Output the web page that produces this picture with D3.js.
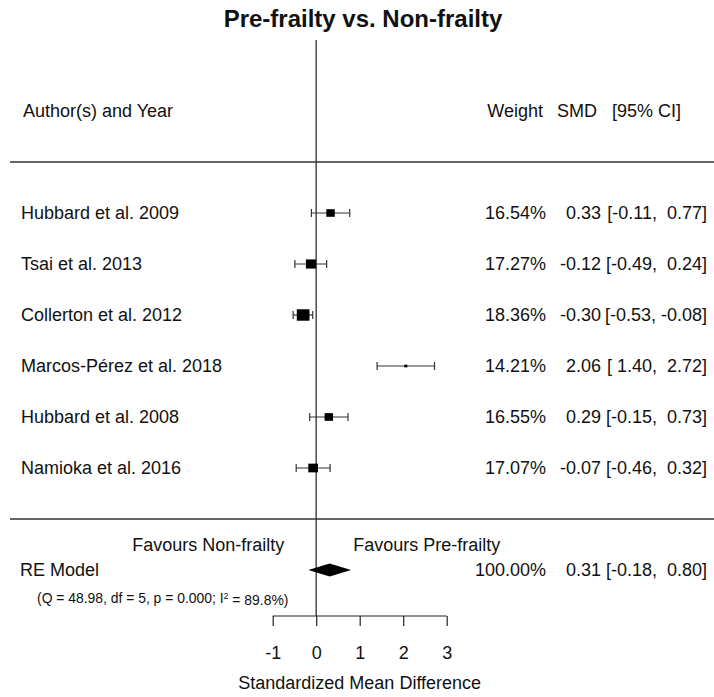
<!DOCTYPE html>
<html>
<head>
<meta charset="utf-8">
<script src="https://cdn.jsdelivr.net/npm/d3@7"></script>
<style>
  html, body { margin: 0; padding: 0; background: #fff; }
  svg text { font-family: "Liberation Sans", Arial, sans-serif; fill: #111; white-space: pre; }
</style>
</head>
<body>
<div id="chart"></div>
<script>
// ---------- data ----------
const studies = ["Hubbard et al. 2009", "Tsai et al. 2013", "Collerton et al. 2012",
                 "Marcos-Pérez et al. 2018", "Hubbard et al. 2008", "Namioka et al. 2016"];
const smd     = [0.33, -0.12, -0.30, 2.06, 0.29, -0.07];
const lower   = [-0.11, -0.49, -0.53, 1.40, -0.15, -0.46];
const upper   = [0.77, 0.24, -0.08, 2.72, 0.73, 0.32];
const weights = [16.54, 17.27, 18.36, 14.21, 16.55, 17.07];
const pooled  = { est: 0.31, lb: -0.18, ub: 0.80, weight: 100.00 };
const hetText = "(Q = 48.98, df = 5, p = 0.000; I";
const hetText2 = " = 89.8%)";
const xTicks  = [-1, 0, 1, 2, 3];
const title   = "Pre-frailty vs. Non-frailty";
const xTitle  = "Standardized Mean Difference";
const labelLeft  = "Favours Non-frailty";
const labelRight = "Favours Pre-frailty";

// ---------- layout ----------
const W = 714, H = 697;
const svg = d3.select("#chart").append("svg").attr("width", W).attr("height", H);

const x = d3.scaleLinear().domain([-1, 3]).range([272.7, 446.7]);
// y in metafor-style row units: study rows k..1, header k+2, RE at -1
const k = studies.length;
const y = d3.scaleLinear().domain([0, 1]).range([519, 468]);
const sizeScale = d3.scaleLinear().domain(d3.extent(weights)).range([3, 12.7]);

const fs = 18;
const fmt = d3.format(".2f");
const num = v => (v < 0 ? "-" : " ") + fmt(Math.abs(v));
const ciStr = (lo, hi) => "[" + num(lo) + ", " + num(hi) + "]";

// title
svg.append("text").attr("x", 363).attr("y", 27).attr("text-anchor", "middle")
  .style("font-size", "24px").style("font-weight", "bold").text(title);

// reference line at 0
svg.append("line").attr("x1", x(0)).attr("x2", x(0))
  .attr("y1", 40).attr("y2", 616)
  .attr("stroke", "#555").attr("stroke-width", 1.6);

// horizontal separators
[k + 1, 0].forEach(v => {
  svg.append("line").attr("x1", 10).attr("x2", W).attr("y1", y(v)).attr("y2", y(v))
    .attr("stroke", "#333").attr("stroke-width", 1.5);
});

// headers
const hy = y(k + 2);
svg.append("text").attr("x", 23).attr("y", hy).attr("dy", "0.35em").style("font-size", fs + "px").text("Author(s) and Year");
svg.append("text").attr("x", 543).attr("y", hy).attr("dy", "0.35em").attr("text-anchor", "end").style("font-size", fs + "px").text("Weight");
svg.append("text").attr("x", 597).attr("y", hy).attr("dy", "0.35em").attr("text-anchor", "end").style("font-size", fs + "px").text("SMD");
svg.append("text").attr("x", 681).attr("y", hy).attr("dy", "0.35em").attr("text-anchor", "end").style("font-size", fs + "px").text("[95% CI]");

// study rows
const rows = studies.map((s, i) => ({ name: s, est: smd[i], lb: lower[i], ub: upper[i], w: weights[i], row: k - i }));
const g = svg.selectAll("g.row").data(rows).enter().append("g").attr("class", "row");

g.append("text").attr("x", 21).attr("y", d => y(d.row)).attr("dy", "0.35em")
  .style("font-size", fs + "px").text(d => d.name);

g.append("line").attr("x1", d => x(d.lb)).attr("x2", d => x(d.ub))
  .attr("y1", d => y(d.row)).attr("y2", d => y(d.row))
  .attr("stroke", "#333").attr("stroke-width", 1.2);
g.append("line").attr("x1", d => x(d.lb)).attr("x2", d => x(d.lb))
  .attr("y1", d => y(d.row) - 4).attr("y2", d => y(d.row) + 4)
  .attr("stroke", "#333").attr("stroke-width", 1.2);
g.append("line").attr("x1", d => x(d.ub)).attr("x2", d => x(d.ub))
  .attr("y1", d => y(d.row) - 4).attr("y2", d => y(d.row) + 4)
  .attr("stroke", "#333").attr("stroke-width", 1.2);
g.append("rect")
  .attr("x", d => x(d.est) - sizeScale(d.w) / 2)
  .attr("y", d => y(d.row) - sizeScale(d.w) * 0.9 / 2)
  .attr("width", d => sizeScale(d.w))
  .attr("height", d => sizeScale(d.w) * 0.9)
  .attr("fill", "#000");

g.append("text").attr("x", 546).attr("y", d => y(d.row)).attr("dy", "0.35em").attr("text-anchor", "end")
  .style("font-size", fs + "px").text(d => fmt(d.w) + "%");
g.append("text").attr("x", 601).attr("y", d => y(d.row)).attr("dy", "0.35em").attr("text-anchor", "end")
  .style("font-size", fs + "px").text(d => (d.est < 0 ? "-" : "") + fmt(Math.abs(d.est)));
g.append("text").attr("x", 707).attr("y", d => y(d.row)).attr("dy", "0.35em").attr("text-anchor", "end")
  .style("font-size", fs + "px").text(d => ciStr(d.lb, d.ub));

// favours labels
const fy = y(-0.5);
svg.append("text").attr("x", x(0) - 32).attr("y", fy).attr("dy", "0.35em").attr("text-anchor", "end")
  .style("font-size", fs + "px").text(labelLeft);
svg.append("text").attr("x", x(0) + 37).attr("y", fy).attr("dy", "0.35em")
  .style("font-size", fs + "px").text(labelRight);

// RE model
const ry = y(-1);
svg.append("text").attr("x", 20).attr("y", ry).attr("dy", "0.35em").style("font-size", fs + "px").text("RE Model");
svg.append("polygon")
  .attr("points", [[x(pooled.lb), ry], [x(pooled.est), ry - 6.5], [x(pooled.ub), ry], [x(pooled.est), ry + 6.5]].map(p => p.join(",")).join(" "))
  .attr("fill", "#000");
svg.append("text").attr("x", 546).attr("y", ry).attr("dy", "0.35em").attr("text-anchor", "end")
  .style("font-size", fs + "px").text(fmt(pooled.weight) + "%");
svg.append("text").attr("x", 601).attr("y", ry).attr("dy", "0.35em").attr("text-anchor", "end")
  .style("font-size", fs + "px").text(fmt(pooled.est));
svg.append("text").attr("x", 707).attr("y", ry).attr("dy", "0.35em").attr("text-anchor", "end")
  .style("font-size", fs + "px").text(ciStr(pooled.lb, pooled.ub));

// heterogeneity
const qt = svg.append("text").attr("x", 37).attr("y", y(-1.55)).attr("dy", "0.35em").style("font-size", "13.9px");
qt.append("tspan").text(hetText);
qt.append("tspan").attr("dy", "-0.45em").style("font-size", "9px").text("2");
qt.append("tspan").attr("dy", "0.45em").text(hetText2);

// axis
const axis = d3.axisBottom(x).tickValues(xTicks).tickSize(10).tickPadding(20).tickFormat(d3.format("d"));
const ax = svg.append("g").attr("transform", "translate(0,616)").call(axis);
ax.select(".domain").attr("stroke", "#222").attr("stroke-width", 1.2).attr("d", `M${x(-1)},0H${x(3)}`);
ax.selectAll(".tick line").attr("stroke", "#222").attr("stroke-width", 1.2);
ax.selectAll(".tick text").style("font-size", fs + "px").style("font-family", "'Liberation Sans', Arial, sans-serif").attr("fill", "#111")
  .text(d => d < 0 ? "-" + Math.abs(d) : d);

svg.append("text").attr("x", (x(-1) + x(3)) / 2).attr("y", 689).attr("text-anchor", "middle")
  .style("font-size", fs + "px").text(xTitle);
</script>
</body>
</html>
